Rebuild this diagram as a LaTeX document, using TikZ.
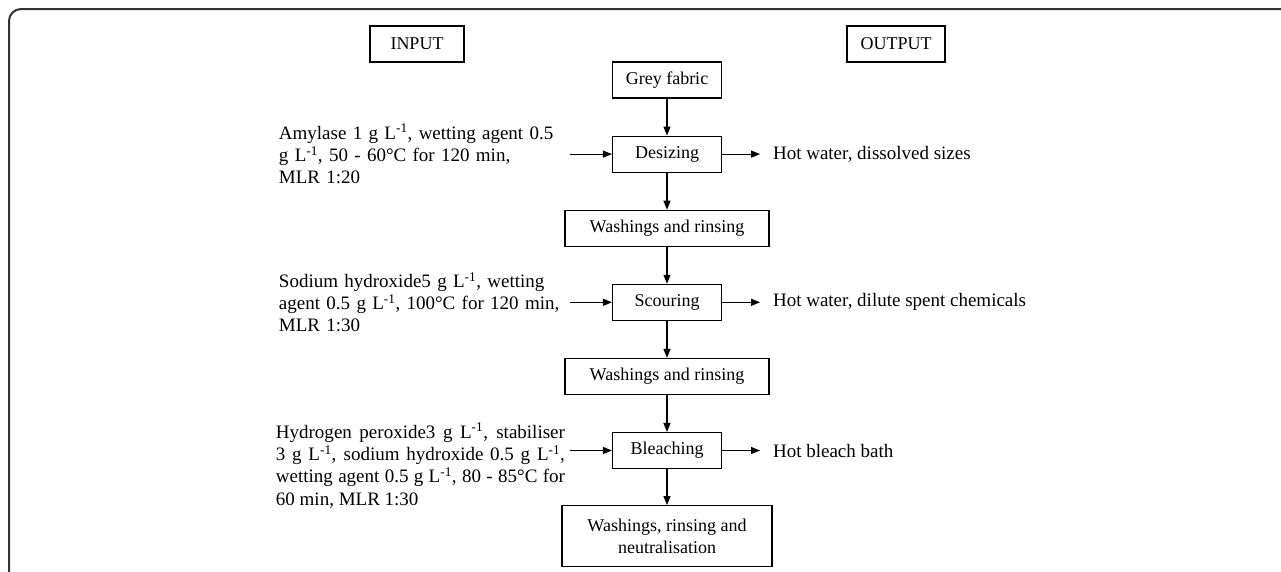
\documentclass[tikz,border=0pt]{standalone}
\usepackage{fontspec}
\setmainfont{Liberation Serif}
\usetikzlibrary{arrows.meta,positioning}

\begin{document}
\begin{tikzpicture}[
	x = 1pt, y = 1pt,
	node distance = 37pt,
	> = {Triangle[length=9pt,width=7pt]},
	font = \fontsize{18}{22.5}\selectfont,
	line width = 1.1pt,
	procbox/.style = {draw, minimum width=109pt, minimum height=36pt, inner sep=2pt},
	widebox/.style = {procbox, minimum width=204pt},
	headbox/.style = {draw, minimum height=36pt, inner sep=2pt},
	intext/.style = {font=\fontsize{19}{22.3}\selectfont, text width=286pt, align=left, inner sep=0pt, outer xsep=5pt},
	outtext/.style = {font=\fontsize{19}{22.3}\selectfont, anchor=west, inner sep=0pt, outer xsep=13pt}
	]
	\useasboundingbox (0,0) rectangle (1281,-571);
	\draw[line width=2pt, black!80] (9,-575) -- (9,-21) arc[start angle=180, end angle=90, radius=12] -- (1285,-9);

	\node[headbox, minimum width=94pt] (input) at (417,-44) {INPUT};
	\node[headbox, minimum width=98pt] (output) at (896,-44) {OUTPUT};

	\node[procbox] (grey) at (667,-80) {Grey fabric};
	\node[procbox, below=of grey] (desize) {Desizing};
	\node[widebox, below=of desize] (wash1) {Washings and rinsing};
	\node[procbox, below=of wash1] (scour) {Scouring};
	\node[widebox, below=of scour] (wash2) {Washings and rinsing};
	\node[procbox, below=of wash2] (bleach) {Bleaching};
	\node[widebox, minimum width=210pt, minimum height=61pt, align=center, below=36pt of bleach] (final) {Washings, rinsing and\\neutralisation};

	\node[intext, left=42pt of desize] (inA) {Amylase 1 g L\textsuperscript{-1}, wetting agent 0.5\\g L\textsuperscript{-1}, 50 - 60°C for 120 min,\\MLR 1:20};
	\node[intext, left=42pt of scour] (inB) {Sodium hydroxide5 g L\textsuperscript{-1}, wetting\\agent 0.5 g L\textsuperscript{-1}, 100°C for 120 min,\\MLR 1:30};
	\node[intext, text width=289pt, align=justify, left=42pt of bleach, yshift=-15pt] (inC) {Hydrogen peroxide3 g L\textsuperscript{-1}, stabiliser\linebreak 3 g L\textsuperscript{-1}, sodium hydroxide 0.5 g L\textsuperscript{-1},\linebreak wetting agent 0.5 g L\textsuperscript{-1}, 80 - 85°C for\linebreak 60 min, MLR 1:30};

	\node[outtext, right=38pt of desize] (outA) {Hot water, dissolved sizes};
	\node[outtext, right=38pt of scour] (outB) {Hot water, dilute spent chemicals};
	\node[outtext, right=38pt of bleach] (outC) {Hot bleach bath};

	\draw[->] (grey) -- (desize);
	\draw[->] (desize) -- (wash1);
	\draw[->] (wash1) -- (scour);
	\draw[->] (scour) -- (wash2);
	\draw[->] (wash2) -- (bleach);
	\draw[->] (bleach) -- (final);

	\draw[->] (inA.east) -- (desize.west);
	\draw[->] (inB.east) -- (scour.west);
	\draw[->] (inC.east |- bleach.west) -- (bleach.west);

	\draw[->] (desize.east) -- (outA.west);
	\draw[->] (scour.east) -- (outB.west);
	\draw[->] (bleach.east) -- (outC.west);
\end{tikzpicture}
\end{document}
